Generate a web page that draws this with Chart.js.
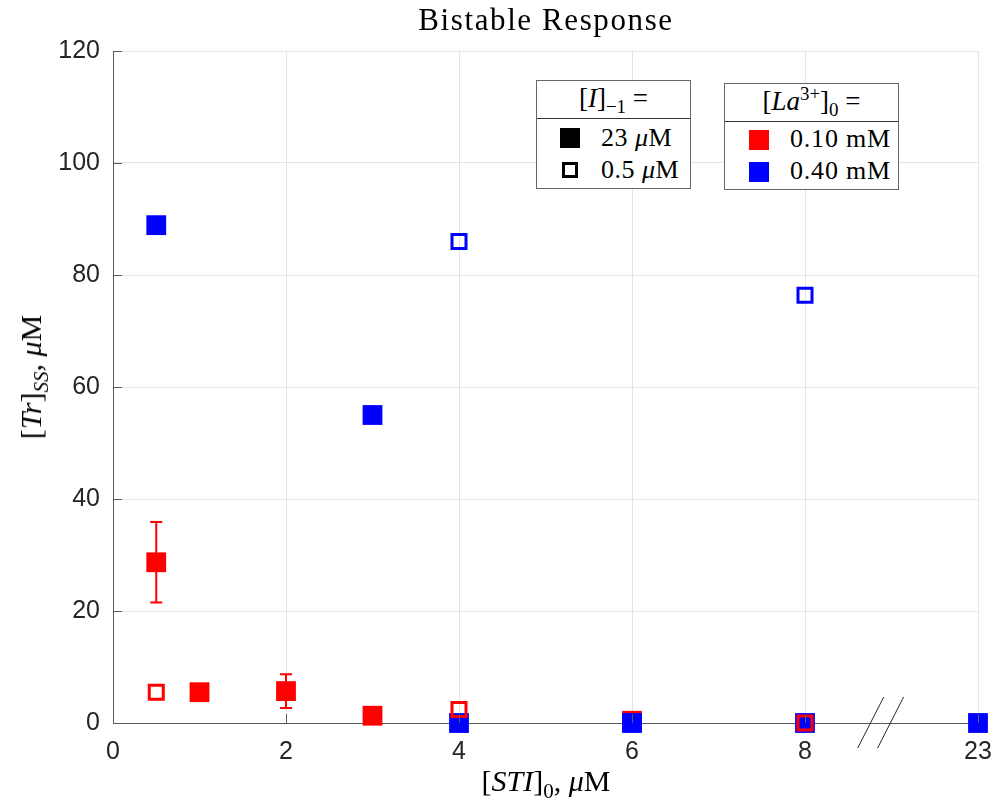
<!DOCTYPE html>
<html>
<head>
<meta charset="utf-8">
<script src="https://cdn.jsdelivr.net/npm/chart.js@4.4.1/dist/chart.umd.min.js"></script>
<style>
  body { margin: 0; background: #fff; }
  #wrap { position: relative; width: 995px; height: 806px; overflow: hidden; }
  #chart { position: absolute; left: 0; top: 0; }
  .tex { position: absolute; font-family: "Liberation Serif", serif; color: #000; white-space: nowrap; }
  .tex sub, .tex sup { font-size: 70%; line-height: 0; }
  .lg { position: absolute; border: 1px solid #666; background: #fff; }
  .lg .sep { position: absolute; left: 0; right: 0; border-top: 1px solid #333; }
  .sq { position: absolute; box-sizing: border-box; }
</style>
</head>
<body>
<div id="wrap">
  <canvas id="chart" width="995" height="806"></canvas>

  <div class="tex" style="left:546px; top:2px; font-size:31px; letter-spacing:1.6px; transform:translateX(-50%);">Bistable Response</div>

  <div class="tex" style="left:31px; top:377px; font-size:30px; transform:translate(-50%,-50%) rotate(-90deg);">[<i>Tr</i>]<sub><i>SS</i></sub>, <i>μ</i>M</div>

  <div class="tex" style="left:546px; top:764px; font-size:30px; transform:translateX(-50%);">[<i>STI</i>]<sub>0</sub>, <i>μ</i>M</div>

  <!-- legend: inhibitor -->
  <div class="lg" style="left:536px; top:80px; width:153px; height:107px;">
    <div class="tex" style="left:0; width:153px; text-align:center; top:2px; font-size:27px;">[<i>I</i>]<sub>−1</sub> =</div>
    <div class="sep" style="top:37px;"></div>
    <div class="sq" style="left:23px; top:47px; width:20px; height:20px; background:#000;"></div>
    <div class="tex" style="left:64px; top:42px; font-size:26px; letter-spacing:0.5px;">23 <i>μ</i>M</div>
    <div class="sq" style="left:25px; top:81px; width:16px; height:16px; border:3px solid #000;"></div>
    <div class="tex" style="left:64px; top:74px; font-size:26px; letter-spacing:0.5px;">0.5 <i>μ</i>M</div>
  </div>

  <!-- legend: lanthanum -->
  <div class="lg" style="left:724px; top:83px; width:173px; height:105px;">
    <div class="tex" style="left:0; width:173px; text-align:center; top:2px; font-size:27px;">[<i>La</i><sup>3+</sup>]<sub>0</sub> =</div>
    <div class="sep" style="top:37px;"></div>
    <div class="sq" style="left:24px; top:46px; width:20px; height:20px; background:#ff0000;"></div>
    <div class="tex" style="left:65px; top:40px; font-size:26px; letter-spacing:0.8px;">0.10 mM</div>
    <div class="sq" style="left:24px; top:78px; width:20px; height:20px; background:#0000ff;"></div>
    <div class="tex" style="left:65px; top:72px; font-size:26px; letter-spacing:0.8px;">0.40 mM</div>
  </div>
</div>

<script>
// x axis is broken between 8 and 23 uM; 23 sits at axis position 10
const xTickValues = [0, 2, 4, 6, 8, 23];
const xTickPos = [0, 2, 4, 6, 8, 10];
function axisPos(v) {
  const i = xTickValues.indexOf(v);
  return (v > 8 && i >= 0) ? xTickPos[i] : v;
}

// [La3+]0 = 0.10 mM, [I]-1 = 23 uM (filled)
const redFilledX = [0.5, 1, 2, 3, 6];
const redFilledY = [28.7, 5.5, 5.7, 1.3, 0.4];
const redFilledErr = [7.2, 0, 3.0, 0, 0];
// [La3+]0 = 0.10 mM, [I]-1 = 0.5 uM (open)
const redOpenX = [0.5, 4, 8];
const redOpenY = [5.5, 2.4, 0];
// [La3+]0 = 0.40 mM, [I]-1 = 23 uM (filled)
const blueFilledX = [0.5, 3, 4, 6, 8, 23];
const blueFilledY = [88.9, 55.0, 0, 0, 0, 0];
// [La3+]0 = 0.40 mM, [I]-1 = 0.5 uM (open)
const blueOpenX = [4, 8];
const blueOpenY = [86.0, 76.4];

const yTicks = [0, 20, 40, 60, 80, 100, 120];

function pts(xs, ys) {
  return xs.map((x, i) => ({ x: axisPos(x), y: ys[i] }));
}

const RED = '#ff0000';
const BLUE = '#0000ff';
const AXIS = '#5a5a5a';

function filled(data, color, order) {
  return {
    data: data, order: order, clip: false,
    pointStyle: 'rect', pointRadius: 14,
    backgroundColor: color, borderColor: color, borderWidth: 0,
    showLine: false
  };
}
function open(data, color, order) {
  return {
    data: data, order: order, clip: false,
    pointStyle: 'rect', pointRadius: 9.9,
    backgroundColor: 'rgba(0,0,0,0)', borderColor: color, borderWidth: 3,
    showLine: false
  };
}

// error bars, inward tick marks and the axis break
const extras = {
  id: 'extras',
  beforeDatasetsDraw(chart) {
    const ctx = chart.ctx, xs = chart.scales.x, ys = chart.scales.y;
    ctx.save();
    ctx.strokeStyle = RED;
    ctx.lineWidth = 2;
    redFilledX.forEach((x, i) => {
      const e = redFilledErr[i];
      if (!e) return;
      const px = xs.getPixelForValue(axisPos(x));
      const top = ys.getPixelForValue(redFilledY[i] + e);
      const bot = ys.getPixelForValue(redFilledY[i] - e);
      ctx.beginPath();
      ctx.moveTo(px, top); ctx.lineTo(px, bot);
      ctx.moveTo(px - 6, top); ctx.lineTo(px + 6, top);
      ctx.moveTo(px - 6, bot); ctx.lineTo(px + 6, bot);
      ctx.stroke();
    });
    ctx.restore();
  },
  afterDraw(chart) {
    const ctx = chart.ctx, xs = chart.scales.x, ys = chart.scales.y;
    const a = chart.chartArea;
    ctx.save();
    ctx.strokeStyle = AXIS;
    ctx.lineWidth = 1;
    ctx.beginPath();
    yTicks.forEach(v => {
      const py = Math.round(ys.getPixelForValue(v)) + 0.5;
      ctx.moveTo(a.left, py); ctx.lineTo(a.left + 9, py);
    });
    xTickPos.forEach(v => {
      const px = Math.round(xs.getPixelForValue(v)) + 0.5;
      ctx.moveTo(px, a.bottom); ctx.lineTo(px, a.bottom - 9);
    });
    ctx.stroke();
    // break mark
    ctx.strokeStyle = '#262626';
    ctx.beginPath();
    [8.76, 8.99].forEach(v => {
      const px = xs.getPixelForValue(v);
      ctx.moveTo(px - 13, a.bottom + 25); ctx.lineTo(px + 13, a.bottom - 26);
    });
    ctx.stroke();
    ctx.restore();
  }
};

new Chart(document.getElementById('chart'), {
  type: 'scatter',
  data: {
    datasets: [
      open(pts(blueOpenX, blueOpenY), BLUE, 0),
      open(pts(redOpenX, redOpenY), RED, 1),
      filled(pts(blueFilledX, blueFilledY), BLUE, 2),
      filled(pts(redFilledX, redFilledY), RED, 3)
    ]
  },
  options: {
    responsive: false,
    animation: false,
    events: [],
    layout: { padding: { top: 51, right: 17, left: 0, bottom: 0 } },
    plugins: { legend: { display: false }, tooltip: { enabled: false } },
    scales: {
      x: {
        type: 'linear', min: 0, max: 10,
        afterFit: s => { s.height = 83; s.paddingLeft = 0; s.paddingRight = 0; },
        afterBuildTicks: s => { s.ticks = xTickPos.map(v => ({ value: v })); },
        ticks: {
          padding: 14,
          color: '#262626',
          font: { family: '"Liberation Sans", Arial, sans-serif', size: 25 },
          callback: v => xTickValues[xTickPos.indexOf(v)]
        },
        grid: { color: '#e4e4e4', drawTicks: false },
        border: { color: AXIS, width: 1 }
      },
      y: {
        min: 0, max: 120,
        afterFit: s => { s.width = 113; },
        ticks: {
          stepSize: 20,
          padding: 13,
          color: '#262626',
          font: { family: '"Liberation Sans", Arial, sans-serif', size: 25 }
        },
        grid: { color: '#e4e4e4', drawTicks: false },
        border: { color: AXIS, width: 1 }
      }
    }
  },
  plugins: [extras]
});
</script>
</body>
</html>
